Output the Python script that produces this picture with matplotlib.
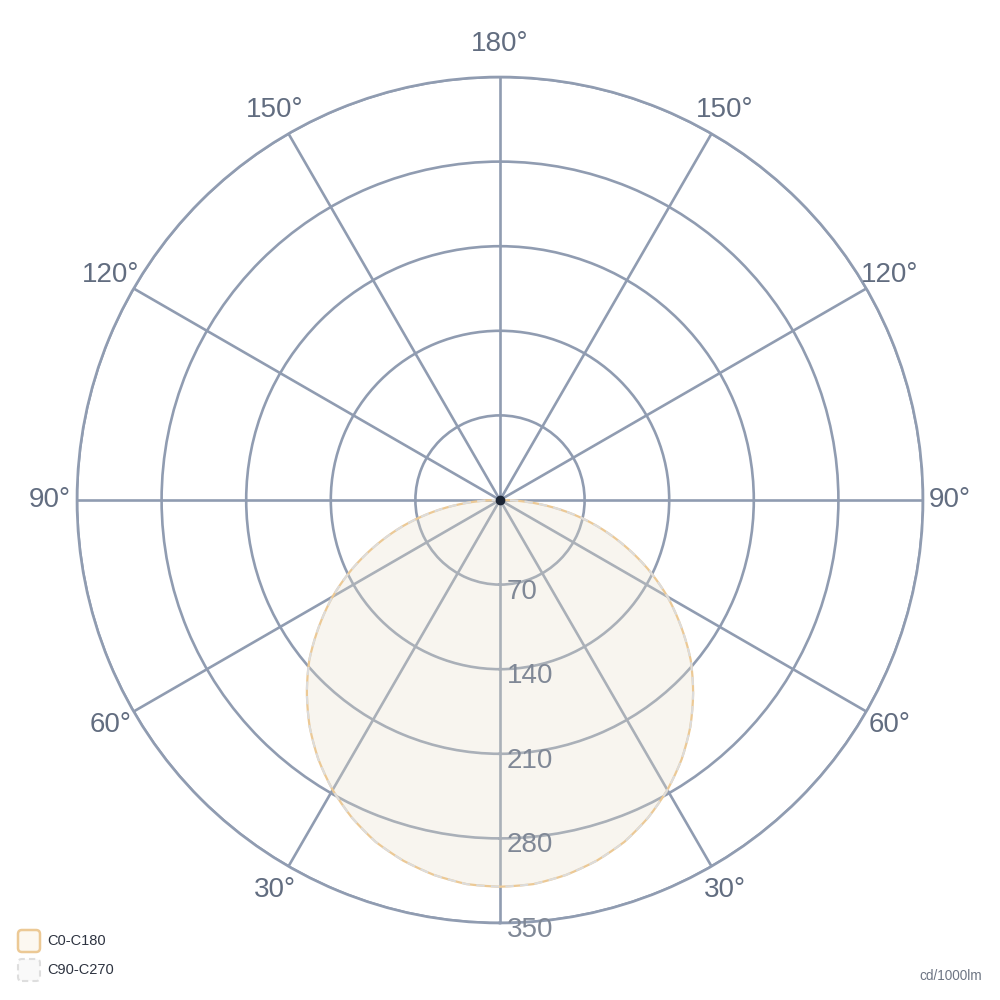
import numpy as np
import matplotlib
matplotlib.use("Agg")
import matplotlib.pyplot as plt
from matplotlib.patches import FancyBboxPatch

plt.rcParams['font.family'] = ['Liberation Sans', 'DejaVu Sans']

# ---- data ----
angles_deg = [0, 5, 10, 15, 20, 25, 30, 35, 40, 45, 50, 55, 60, 65, 70, 75, 80, 85, 90]
c0_c180 = [320, 319, 315, 309, 301, 290, 277, 262, 245, 226, 206, 183, 160, 135, 109, 83, 56, 28, 0]
c90_c270 = [320, 319, 315, 309, 301, 290, 277, 262, 245, 226, 206, 183, 160, 135, 109, 83, 56, 28, 0]
radial_ticks = [70, 140, 210, 280, 350]
theta_ticks = [0, 30, 60, 90, 120, 150, 180, 210, 240, 270, 300, 330]
theta_labels = ['', '30°', '60°', '90°', '120°', '150°', '180°', '150°', '120°', '90°', '60°', '30°']
series_names = ['C0-C180', 'C90-C270']
unit_label = 'cd/1000lm'

GRID = '#909cb1'
LABEL = '#626d80'
RLABEL = '#808896'

def full(vals):
    a = np.array(angles_deg, dtype=float)
    v = np.array(vals, dtype=float)
    th = np.concatenate([-a[::-1], a[1:]])
    rr = np.concatenate([v[::-1], v[1:]])
    return np.deg2rad(th), rr

def smooth_line(line, n=20):
    line._path._interpolation_steps = n
    line.recache_always()

def smooth_patch(patches, n=20):
    for p in patches:
        p.get_path()._interpolation_steps = n

fig = plt.figure(figsize=(10, 10), dpi=100)
R_px = 423
ax = fig.add_axes([(500 - R_px) / 1000, (500 - R_px) / 1000, 2 * R_px / 1000, 2 * R_px / 1000],
                  projection='polar')
ax.set_theta_zero_location('S')
ax.set_theta_direction(1)
ax.set_ylim(0, 350)
ax.set_axisbelow(True)

ax.set_xticks(np.deg2rad(theta_ticks))
ax.set_xticklabels([])
ax.set_yticks(radial_ticks)
ax.set_yticklabels([])
ax.grid(True, color=GRID, linewidth=1.9)
ax.spines['polar'].set_color(GRID)
ax.spines['polar'].set_linewidth(1.9)
ax.tick_params(length=0)

# series
th, rr = full(c0_c180)
f1 = ax.fill(th, rr, color='#ebe1c9', alpha=0.27, zorder=1, linewidth=0)
smooth_patch(f1)
l1, = ax.plot(th, rr, color='#ecc995', linewidth=1.6, zorder=3)
smooth_line(l1)
th2, rr2 = full(c90_c270)
f2 = ax.fill(th2, rr2, color='#eeeeee', alpha=0.03, zorder=1, linewidth=0)
smooth_patch(f2)
l2, = ax.plot(th2, rr2, color='#dcdcdc', linewidth=1.5, linestyle=(0, (4, 3)), zorder=3)
smooth_line(l2)

ax.plot([0], [0], 'o', color='#1b2433', markersize=6, zorder=5)

# angle labels
r_lab = 350 * 450 / R_px
for t, lab in zip(theta_ticks, theta_labels):
    if not lab:
        continue
    rl = r_lab + (6 * 350 / R_px if t == 180 else 0)
    ax.text(np.deg2rad(t), rl, lab, ha='center', va='center', fontsize=20,
            color=LABEL, clip_on=False)

# radial labels
for v in radial_ticks:
    ax.annotate(str(v), xy=(0, v), xytext=(7, -7), textcoords='offset pixels',
                ha='left', va='center', fontsize=20, color=RLABEL, zorder=6,
                annotation_clip=False)

# legend
p1 = FancyBboxPatch((18 / 1000, (1000 - 952) / 1000), 22 / 1000, 22 / 1000,
                    boxstyle='round,pad=0,rounding_size=0.004', transform=fig.transFigure,
                    facecolor='#fcf8f1', edgecolor='#ecc995', linewidth=1.8)
p2 = FancyBboxPatch((18 / 1000, (1000 - 981) / 1000), 22 / 1000, 22 / 1000,
                    boxstyle='round,pad=0,rounding_size=0.004', transform=fig.transFigure,
                    facecolor='#f9f9f9', edgecolor='#dedede', linewidth=1.5,
                    linestyle=(0, (3, 2)))
fig.patches.extend([p1, p2])
fig.text(47 / 1000, (1000 - 941) / 1000, series_names[0], ha='left', va='center',
         fontsize=10.5, color='#2d3340')
fig.text(47 / 1000, (1000 - 970) / 1000, series_names[1], ha='left', va='center',
         fontsize=10.5, color='#2d3340')
fig.text(982 / 1000, (1000 - 976) / 1000, unit_label, ha='right', va='center',
         fontsize=9.8, color='#6e7684')

fig.savefig('out.png', dpi=100, facecolor='white')
